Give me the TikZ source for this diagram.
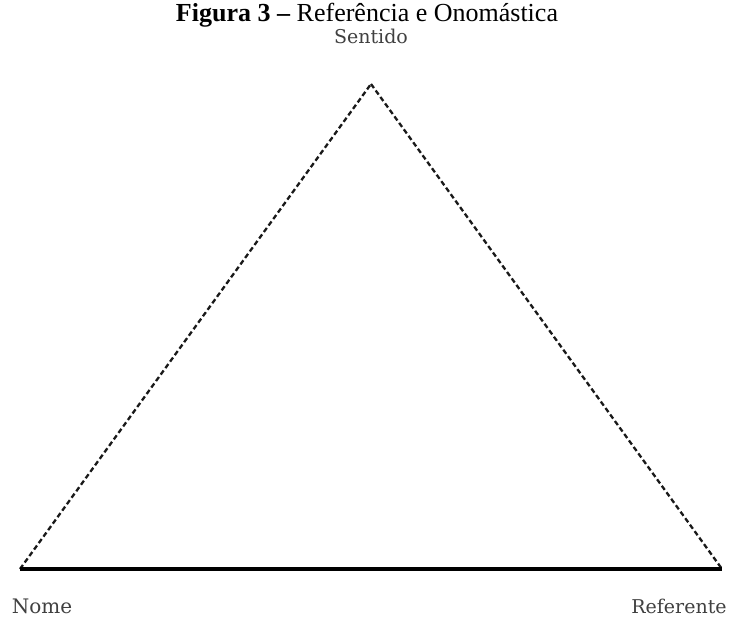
\documentclass[tikz,border=0pt]{standalone}
\usepackage{fontspec}
\setmainfont{Liberation Serif}
\newfontfamily\labelfont{DejaVu Serif}
\usetikzlibrary{positioning}
\tikzset{
  vertexlabel/.style={font=\labelfont\fontsize{19}{21}\selectfont, text=black!75, inner sep=1pt},
  dashside/.style={dash pattern=on 5pt off 3pt, line width=2.3pt, draw=black!90},
  baseside/.style={line width=3.6pt, draw=black}
}
\begin{document}
\begin{tikzpicture}[x=1pt, y=-1pt]
  \useasboundingbox (0,0) rectangle (729,618);
  \node[font=\fontsize{26}{28}\selectfont, inner sep=0pt, anchor=base] (title) at (367,22) {\textbf{Figura 3 –} Referência e Onomástica};
  \coordinate (sentido) at (371,84);
  \coordinate (nome) at (20,569);
  \coordinate (referente) at (722,569);
  \node[vertexlabel] (lblsentido) at (371,36) {Sentido};
  \node[vertexlabel, font=\labelfont\fontsize{20}{22}\selectfont] (lblnome) at (42,606) {Nome};
  \node[vertexlabel] (lblreferente) at (679,606) {Referente};
  \draw[dashside] (nome) -- (sentido);
  \draw[dashside] (sentido) -- (referente);
  \draw[baseside] (nome) -- (referente);
\end{tikzpicture}
\end{document}
